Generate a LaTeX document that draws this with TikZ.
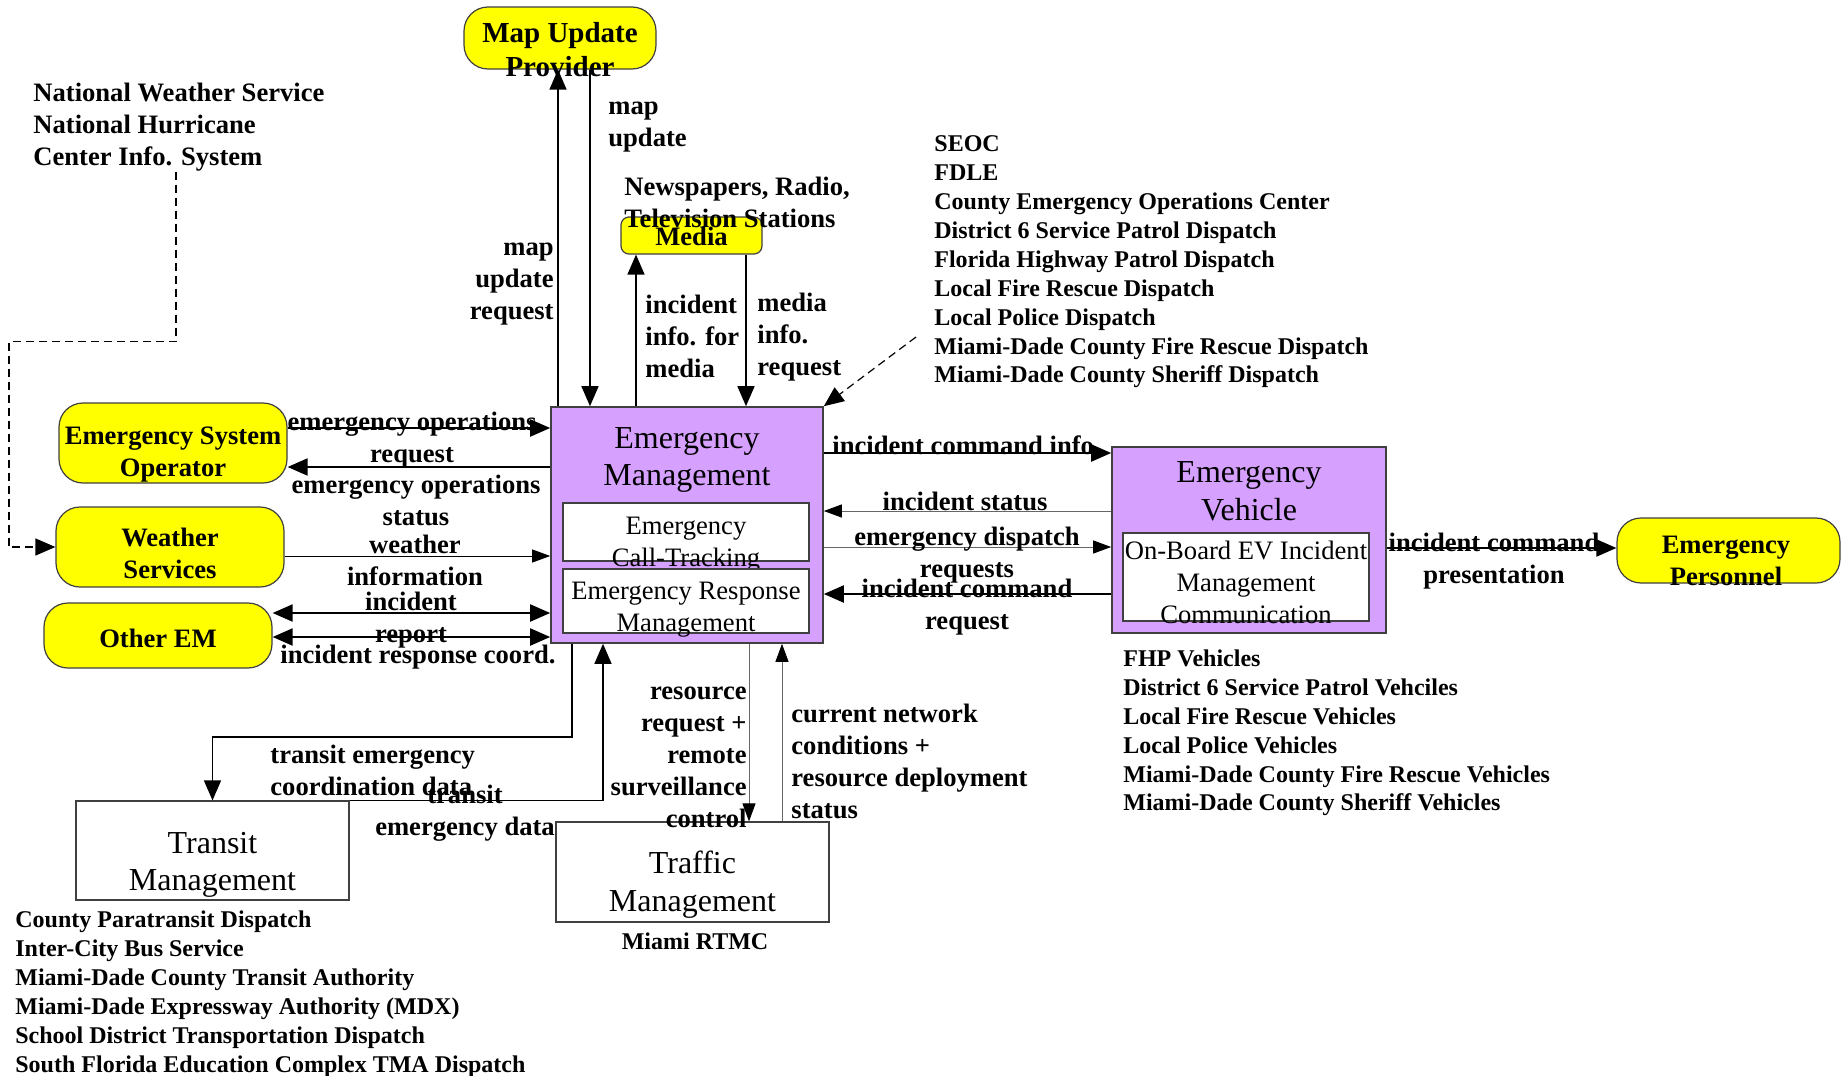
\documentclass[tikz,border=0pt]{standalone}
\usepackage{fontspec}
\setmainfont{Liberation Serif}
\usetikzlibrary{arrows.meta}

\definecolor{entyellow}{RGB}{255,255,0}
\definecolor{sysviolet}{RGB}{214,160,255}

\newcommand\flowfont{\bfseries\fontsize{13.3}{16}\selectfont}
\newcommand\listfont{\bfseries\fontsize{12}{14.45}\selectfont}
\newcommand\mapfont{\bfseries\fontsize{14.5}{17}\selectfont}
\newcommand\titlefont{\fontsize{16}{18.8}\selectfont}
\newcommand\innerfont{\fontsize{13.3}{16}\selectfont}

\tikzset{
  ybox/.style={draw=black!75, fill=entyellow, rounded corners=12pt, line width=0.6pt},
  pbox/.style={draw=black!75, fill=sysviolet, line width=0.8pt},
  wbox/.style={draw=black!75, fill=white, line width=0.6pt},
  ytxt/.style={font=\flowfont, align=center, inner sep=0pt},
  btxt/.style={font=\titlefont, align=center, inner sep=0pt},
  itxt/.style={font=\innerfont, align=center, inner sep=0pt},
  lbl/.style={font=\flowfont, align=center, inner sep=0pt},
  lst/.style={font=\listfont, align=left, inner sep=0pt, anchor=west},
  thickflow/.style={line width=1pt, ->},
  midflow/.style={line width=0.7pt, ->},
  thinflow/.style={line width=0.45pt, draw=black!60, -{Triangle[length=9pt,width=6.5pt,color=black]}},
  dashflow/.style={line width=0.6pt, dash pattern=on 4pt off 2.5pt, ->},
}

\begin{document}
\begin{tikzpicture}[x=0.5pt, y=-0.5pt, >={Triangle[length=10pt,width=8.5pt]}]
  \useasboundingbox (0,0) rectangle (1843,1076);

  % external entities
  \node[ybox, minimum width=96pt, minimum height=31pt] (map) at (560,38) {};
  \node[ytxt, font=\mapfont] (maptxt) at (560,50) {Map Update\\Provider};
  \node[ybox, minimum width=70.5pt, minimum height=18.5pt, rounded corners=4pt] (media) at (691.5,235.5) {};
  \node[ytxt] (mediatxt) at (691.5,236) {Media};
  \node[ybox, minimum width=114pt, minimum height=40pt] (eso) at (173,443) {};
  \node[ytxt] (esotxt) at (173,455) {Emergency System\\Operator};
  \node[ybox, minimum width=114pt, minimum height=40pt] (ws) at (170,547) {};
  \node[ytxt] (wstxt) at (170,553) {Weather\\Services};
  \node[ybox, minimum width=114pt, minimum height=32.5pt] (oem) at (158,635.5) {};
  \node[ytxt] (oemtxt) at (158,638) {Other EM};
  \node[ybox, minimum width=111.5pt, minimum height=32.5pt] (ep) at (1728.5,550.5) {};
  \node[ytxt] (eptxt) at (1726,561) {Emergency\\Personnel};

  % subsystems
  \node[pbox, minimum width=136pt, minimum height=118pt] (em) at (687,525) {};
  \node[btxt] (emtxt) at (687,460) {Emergency\\Management};
  \node[wbox, minimum width=123pt, minimum height=29pt] (emct) at (686,532) {};
  \node[itxt] (emcttxt) at (686,545) {Emergency\\Call-Tracking};
  \node[wbox, minimum width=123pt, minimum height=32pt] (emrm) at (686,601) {};
  \node[itxt] (emrmtxt) at (686,610) {Emergency Response\\Management};

  \node[pbox, minimum width=137pt, minimum height=93pt] (ev) at (1249,540) {};
  \node[btxt] (evtxt) at (1249,491.5) {Emergency\\Vehicle};
  \node[wbox, minimum width=123pt, minimum height=44pt] (evob) at (1246,577) {};
  \node[itxt] (evobtxt) at (1246,582) {On-Board EV Incident\\Management\\Communication};

  \node[wbox, minimum width=136.5pt, minimum height=49.5pt] (tr) at (212.5,850.5) {};
  \node[btxt] (trtxt) at (212.5,865) {Transit\\Management};
  \node[wbox, minimum width=136.5pt, minimum height=50pt] (tf) at (692.5,872) {};
  \node[btxt] (tftxt) at (692.5,884.5) {Traffic\\Management};

  % stakeholder lists
  \node[lst, font=\flowfont] (nws) at (33,127) {National Weather Service\\National Hurricane\\Center Info. System};
  \node[lst, font=\flowfont] (mediaorg) at (624,202) {Newspapers, Radio,\\Television Stations};
  \node[lst] (seoc) at (934,262) {SEOC\\FDLE\\County Emergency Operations Center\\District 6 Service Patrol Dispatch\\Florida Highway Patrol Dispatch\\Local Fire Rescue Dispatch\\Local Police Dispatch\\Miami-Dade County Fire Rescue Dispatch\\Miami-Dade County Sheriff Dispatch};
  \node[lst] (fhp) at (1123,733) {FHP Vehicles\\District 6 Service Patrol Vehciles\\Local Fire Rescue Vehicles\\Local Police Vehicles\\Miami-Dade County Fire Rescue Vehicles\\Miami-Dade County Sheriff Vehicles};
  \node[lst] (cpd) at (15,994) {County Paratransit Dispatch\\Inter-City Bus Service\\Miami-Dade County Transit Authority\\Miami-Dade Expressway Authority (MDX)\\School District Transportation Dispatch\\South Florida Education Complex TMA Dispatch};
  \node[lbl, font=\listfont] (rtmc) at (695,941) {Miami RTMC};

  % map provider
  \coordinate (mq) at ([xshift=-64.5pt]em.north);
  \coordinate (mu) at ([xshift=-48.5pt]em.north);
  \draw[midflow] (mq) -- (mq |- map.south);
  \draw[midflow] (mu |- map.south) -- (mu);

  % media
  \coordinate (mi) at ([xshift=-25.5pt]em.north);
  \coordinate (mr) at ([xshift=29.5pt]em.north);
  \draw[midflow] (mi) -- (mi |- media.south);
  \draw[midflow] (mr |- media.south) -- (mr);

  % dispatch centres and weather feed
  \coordinate (dc) at ([xshift=-9pt,yshift=-37.5pt]seoc.west);
  \draw[dashflow] (dc) -- (em.north east);
  \coordinate (nw) at ([xshift=71.5pt]nws.south west);
  \draw[dashflow] (nw) -- ++(0,170) -- ++(-167,0) |- (ws.west);

  % operator, weather, other EM
  \coordinate (eo1) at ([yshift=7.5pt]eso.east);
  \coordinate (eo2) at ([yshift=-12pt]eso.east);
  \draw[thickflow] (eo1) -- (eo1 -| em.west);
  \draw[thickflow] (eo2 -| em.west) -- (eo2);
  \coordinate (wi) at ([yshift=-4.5pt]ws.east);
  \draw[thinflow, draw=black] (wi) -- (wi -| em.west);
  \coordinate (ir) at ([yshift=11.25pt]oem.east);
  \coordinate (rc) at ([yshift=-0.75pt]oem.east);
  \draw[thickflow, <->] (ir) -- (ir -| em.west);
  \draw[thickflow, <->] (rc) -- (rc -| em.west);

  % vehicle
  \coordinate (ci) at ([yshift=36pt]em.east);
  \coordinate (is) at ([yshift=7pt]em.east);
  \coordinate (rd) at ([yshift=-11pt]em.east);
  \coordinate (cr) at ([yshift=-34.5pt]em.east);
  \draw[thickflow] (ci) -- (ci -| ev.west);
  \draw[thinflow] (is -| ev.west) -- (is);
  \draw[thinflow] (rd) -- (rd -| ev.west);
  \draw[thickflow] (cr -| ev.west) -- (cr);
  \coordinate (cp) at ([yshift=-4pt]ev.east);
  \draw[thickflow] (cp) -- (cp -| ep.west);

  % transit and traffic
  \coordinate (tc) at ([xshift=-57.5pt]em.south);
  \coordinate (te) at ([xshift=-42pt]em.south);
  \draw[midflow] (tc) -- ++(0,93) -| (tr.north);
  \draw[midflow] (tr.north east) -| (te);
  \coordinate (rr) at ([xshift=31pt]em.south);
  \coordinate (nc) at ([xshift=47.5pt]em.south);
  \draw[thinflow] (rr) -- (rr |- tf.north);
  \draw[thinflow] (nc |- tf.north) -- (nc);

  % flow labels
  \node[lbl, anchor=east, align=right] (lblmq) at (554,284) {map\\update\\request};
  \node[lbl, anchor=west, align=left] (lblmu) at (608,127) {map\\update};
  \node[lbl, anchor=west, align=left] (lblmi) at (645,336) {incident\\info. for\\media};
  \node[lbl, anchor=west, align=left] (lblmr) at (757,337) {media\\info.\\request};
  \node[lbl] (lbleo1) at (412,440) {emergency operations\\request};
  \node[lbl] (lbleo2) at (416,500) {emergency operations\\status};
  \node[lbl] (lblwi) at (415,560.5) {weather\\information};
  \node[lbl] (lblir) at (411,620) {incident\\report};
  \node[lbl] (lblrc) at (418,657) {incident response coord.};
  \node[lbl, anchor=west] (lblci) at (832,445) {incident command info};
  \node[lbl] (lblis) at (965,501) {incident status};
  \node[lbl] (lblrd) at (967,555) {emergency dispatch\\requests};
  \node[lbl] (lblcr) at (967,607) {incident command\\request};
  \node[lbl] (lblcp) at (1494,561) {incident command\\presentation};
  \node[lbl, anchor=west, align=left] (lbltc) at (270,770.5) {transit emergency\\coordination data};
  \node[lbl] (lblte) at (465,813) {transit\\emergency data};
  \node[lbl, anchor=east, align=right] (lblrr) at (747,757) {resource\\request +\\remote\\surveillance\\control};
  \node[lbl, anchor=west, align=left] (lblnc) at (791,761) {current network\\conditions +\\resource deployment\\status};

\end{tikzpicture}
\end{document}
